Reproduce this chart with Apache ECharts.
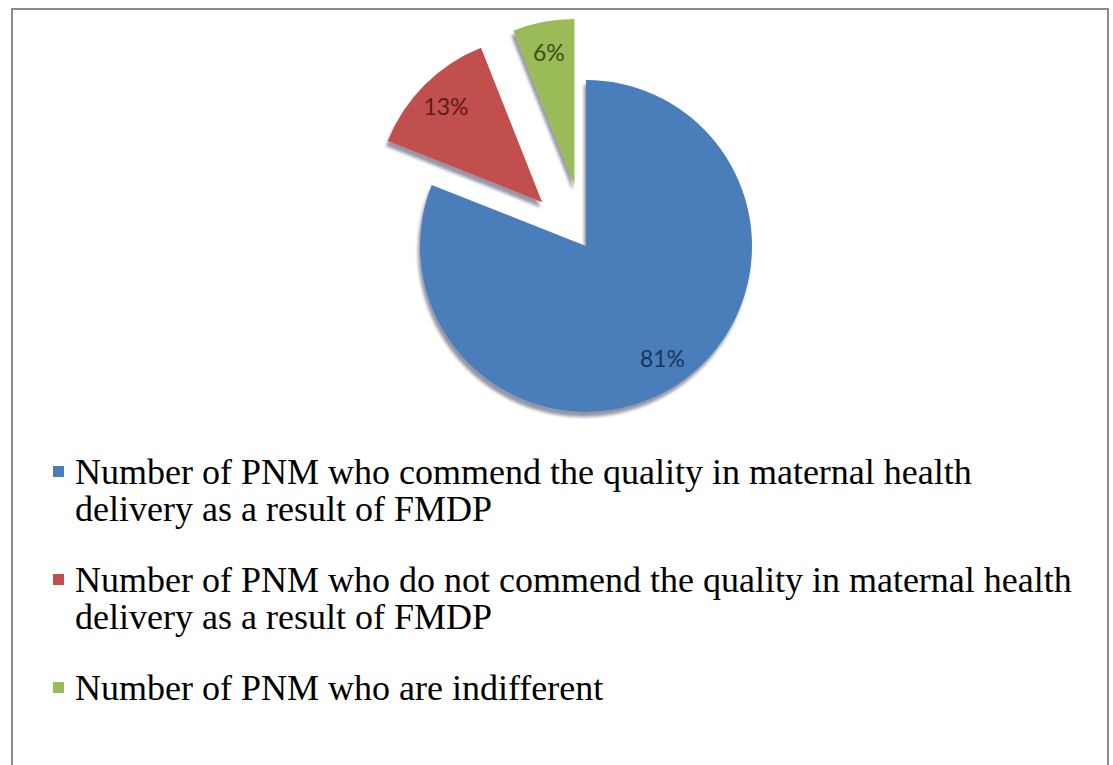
<!DOCTYPE html>
<html>
<head>
<meta charset="utf-8">
<script src="https://cdn.jsdelivr.net/npm/echarts@6/dist/echarts.min.js"></script>
<style>
  html, body { margin: 0; padding: 0; background: #fff; }
  #frame { position: absolute; left: 11px; top: 8px; width: 1098px; height: 800px; border: 2px solid #8a8a8a; box-sizing: border-box; }
  #chart { position: absolute; left: 0; top: 0; width: 1113px; height: 765px; }
</style>
</head>
<body>
<div id="frame"></div>
<div id="chart"></div>
<script>
const categories = [
  'Number of PNM who commend the quality in maternal health delivery as a result of FMDP',
  'Number of PNM who do not commend the quality in maternal health delivery as a result of FMDP',
  'Number of PNM who are indifferent'
];
const values = [81, 13, 6];
const legendLines = [
  ['Number of PNM who commend the quality in maternal health', 'delivery as a result of FMDP'],
  ['Number of PNM who do not commend the quality in maternal health', 'delivery as a result of FMDP'],
  ['Number of PNM who are indifferent']
];
const exploded = [false, true, true];
const colors = ['#4A7EBB', '#C0504D', '#9BBB59'];
const labelColors = ['#1d3557', '#5e1b19', '#3b4d1b'];

const chart = echarts.init(document.getElementById('chart'), null, { renderer: 'svg' });

const baseData = categories.map((name, i) => ({
  name: name,
  value: values[i],
  selected: exploded[i],
  itemStyle: { color: colors[i] }
}));

const labelData = categories.map((name, i) => ({
  name: name,
  value: values[i],
  selected: exploded[i],
  itemStyle: { color: 'rgba(0,0,0,0)' },
  label: { color: labelColors[i] }
}));

const legendText = {};
categories.forEach((name, i) => {
  const lines = legendLines[i];
  legendText[name] = lines.length > 1 ? ' \n' + lines.join('\n') : ' \n' + lines[0] + '\n ';
});

chart.setOption({
  backgroundColor: 'transparent',
  animation: false,
  legend: {
    orient: 'vertical',
    left: 53,
    top: 416,
    padding: 0,
    itemGap: -3,
    icon: 'rect',
    itemWidth: 11,
    itemHeight: 11,
    selectedMode: false,
    data: categories,
    formatter: name => legendText[name],
    textStyle: {
      fontFamily: 'Liberation Serif',
      fontSize: 36,
      lineHeight: 37,
      color: '#000',
      padding: [0, 0, 0, 6]
    }
  },
  series: [
    {
      type: 'pie',
      center: [586, 246],
      radius: [0, 166],
      startAngle: 90,
      clockwise: true,
      selectedMode: 'multiple',
      selectedOffset: 62,
      emphasis: { disabled: true },
      label: { show: false },
      labelLine: { show: false },
      itemStyle: {
        shadowColor: 'rgba(20,30,60,0.45)',
        shadowOffsetY: 5,
        shadowOffsetX: -2,
        shadowBlur: 3
      },
      data: baseData
    },
    {
      type: 'pie',
      center: [586, 246],
      radius: [100, 166],
      startAngle: 90,
      clockwise: true,
      selectedMode: 'multiple',
      selectedOffset: 62,
      silent: true,
      emphasis: { disabled: true },
      label: {
        show: true,
        position: 'inside',
        fontFamily: 'Lato',
        fontSize: 23,
        formatter: p => p.value + '%'
      },
      labelLine: { show: false },
      data: labelData
    }
  ]
});
</script>
</body>
</html>
